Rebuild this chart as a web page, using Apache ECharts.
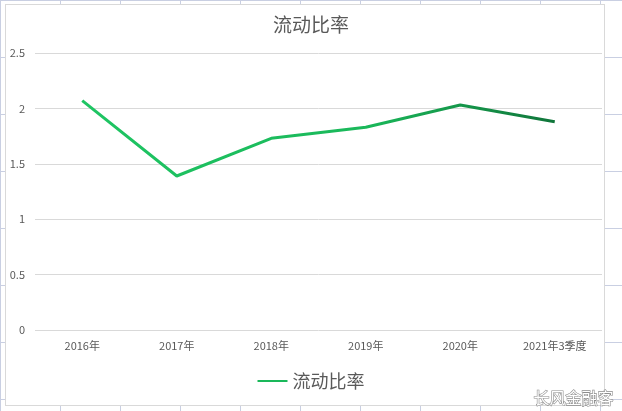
<!DOCTYPE html>
<html lang="zh">
<head>
    <meta charset="UTF-8">
    <title>流动比率</title>
    <script src="https://cdn.jsdelivr.net/npm/echarts@6/dist/echarts.min.js"></script>
    <style type="text/css">
        html, body {
            margin: 0;
            padding: 0;
            width: 622px;
            height: 411px;
            overflow: hidden;
            /* 表格背景的网格线 */
            background-color: #ffffff;
            background-image:
                repeating-linear-gradient(to right, #c9cfe2 0, #c9cfe2 1px, transparent 1px, transparent 60px),
                repeating-linear-gradient(to bottom, #c9cfe2 0, #c9cfe2 1px, transparent 1px, transparent 57px);
        }
        #box {
            position: absolute;
            left: 5px;
            top: 4px;
            width: 598px;
            height: 400px;
            background: #ffffff;
            border: 1px solid #d9d9d9;
        }
        #main {
            position: absolute;
            left: 0;
            top: 0;
            width: 622px;
            height: 411px;
        }
    </style>
</head>
<body>
<div id="box"></div>
<div id="main"></div>
<script type="text/javascript">
    // 数据
    var categories = ['2016年', '2017年', '2018年', '2019年', '2020年', '2021年3季度'];
    var ratioValues = [2.07, 1.39, 1.73, 1.83, 2.03, 1.88];
    var yTicks = [0, 0.5, 1, 1.5, 2, 2.5];
    var seriesName = '流动比率';

    var myChart = echarts.init(document.getElementById('main'));

    var lineColor = new echarts.graphic.LinearGradient(0, 0, 1, 0, [
        {offset: 0, color: '#1fc563'},
        {offset: 0.6, color: '#1ab85a'},
        {offset: 1, color: '#10743a'}
    ]);

    var option = {
        animation: false,
        title: {
            text: seriesName,
            left: 'center',
            top: 10,
            textStyle: {
                fontFamily: 'Noto Sans CJK SC',
                fontSize: 19,
                fontWeight: 'normal',
                color: '#595959'
            }
        },
        grid: {
            left: 35,
            right: 20,
            top: 53,
            bottom: 81
        },
        xAxis: {
            type: 'category',
            data: categories,
            boundaryGap: true,
            axisLine: {show: false},
            axisTick: {show: false},
            axisLabel: {
                margin: 10,
                fontFamily: 'Noto Sans CJK SC',
                fontSize: 11,
                color: '#595959'
            }
        },
        yAxis: {
            type: 'value',
            min: yTicks[0],
            max: yTicks[yTicks.length - 1],
            interval: yTicks[1] - yTicks[0],
            axisLine: {show: false},
            axisTick: {show: false},
            axisLabel: {
                margin: 10,
                fontFamily: 'Noto Sans CJK SC',
                fontSize: 11,
                color: '#595959'
            },
            splitLine: {
                lineStyle: {color: '#d9d9d9', width: 1}
            }
        },
        legend: {
            bottom: 16,
            left: 'center',
            itemWidth: 30,
            itemHeight: 10,
            itemGap: 6,
            textStyle: {
                fontFamily: 'Noto Sans CJK SC',
                fontSize: 18,
                color: '#595959'
            },
            data: [{name: seriesName, icon: 'path://M0,4 L30,4 L30,6 L0,6 Z'}]
        },
        series: [
            {
                name: seriesName,
                type: 'line',
                data: ratioValues,
                symbol: 'none',
                lineStyle: {color: lineColor, width: 3},
                itemStyle: {color: '#1ab85a'}
            }
        ],
        graphic: [
            {
                type: 'text',
                right: 8,
                bottom: 4,
                style: {
                    text: '长风金融客',
                    font: '16px "Noto Sans CJK SC"',
                    fill: '#ffffff',
                    stroke: '#8c8c8c',
                    lineWidth: 1.2
                }
            }
        ]
    };

    myChart.setOption(option);
</script>
</body>
</html>
